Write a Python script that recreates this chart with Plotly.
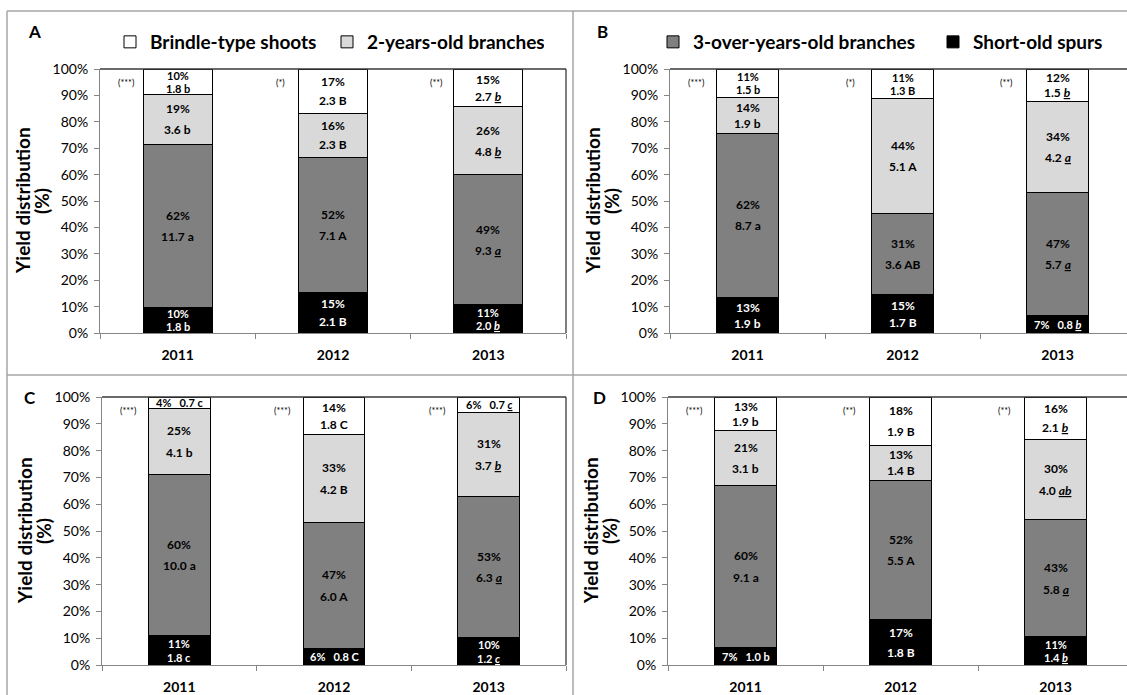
import numpy as np
import plotly.graph_objects as go

W, H = 1127, 695
FONT = "Lato"

years = ["2011", "2012", "2013"]
series = ["Short-old spurs", "3-over-years-old branches", "2-years-old branches", "Brindle-type shoots"]
fills = ["#000000", "#808080", "#D9D9D9", "#FFFFFF"]
pct_ticks = list(range(0, 101, 10))

# Yield per shoot class; rows bottom-to-top: spurs, 3-over, 2-years, brindle; columns: years
yield_a = [[1.8, 2.1, 2.0], [11.7, 7.1, 9.3], [3.6, 2.3, 4.8], [1.8, 2.3, 2.7]]
pct_a = [["10%", "15%", "11%"], ["62%", "52%", "49%"], ["19%", "16%", "26%"], ["10%", "17%", "15%"]]
letters_a = [["b", "B", "b"], ["a", "A", "a"], ["b", "B", "b"], ["b", "B", "b"]]
signif_a = ["(***)", "(*)", "(**)"]

yield_b = [[1.9, 1.7, 0.8], [8.7, 3.6, 5.7], [1.9, 5.1, 4.2], [1.5, 1.3, 1.5]]
pct_b = [["13%", "15%", "7%"], ["62%", "31%", "47%"], ["14%", "44%", "34%"], ["11%", "11%", "12%"]]
letters_b = [["b", "B", "b"], ["a", "AB", "a"], ["b", "A", "a"], ["b", "B", "b"]]
signif_b = ["(***)", "(*)", "(**)"]

yield_c = [[1.8, 0.8, 1.2], [10.0, 6.0, 6.3], [4.1, 4.2, 3.7], [0.7, 1.8, 0.7]]
pct_c = [["11%", "6%", "10%"], ["60%", "47%", "53%"], ["25%", "33%", "31%"], ["4%", "14%", "6%"]]
letters_c = [["c", "C", "c"], ["a", "A", "a"], ["b", "B", "b"], ["c", "C", "c"]]
signif_c = ["(***)", "(***)", "(***)"]

yield_d = [[1.0, 1.8, 1.4], [9.1, 5.5, 5.8], [3.1, 1.4, 4.0], [1.9, 1.9, 2.1]]
pct_d = [["7%", "17%", "11%"], ["60%", "52%", "43%"], ["21%", "13%", "30%"], ["13%", "18%", "16%"]]
letters_d = [["b", "B", "b"], ["a", "A", "a"], ["b", "B", "ab"], ["b", "B", "b"]]
signif_d = ["(***)", "(**)", "(**)"]

# panel layout in pixels: plot-area left/right/top/bottom, bar width (category units)
panels = [
    dict(tag="A", vals=yield_a, pct=pct_a, let=letters_a, sig=signif_a,
         left=100, right=566, top=69, bottom=333, bw=0.445, legend="legend"),
    dict(tag="B", vals=yield_b, pct=pct_b, let=letters_b, sig=signif_b,
         left=670, right=1135, top=69, bottom=333, bw=0.40, legend="legend2"),
    dict(tag="C", vals=yield_c, pct=pct_c, let=letters_c, sig=signif_c,
         left=102, right=566, top=397, bottom=665, bw=0.40, legend=None),
    dict(tag="D", vals=yield_d, pct=pct_d, let=letters_d, sig=signif_d,
         left=668, right=1133, top=397, bottom=665, bw=0.40, legend=None),
]


def px(x):
    return x / W


def py(y):
    return 1 - y / H


fig = go.Figure()
annotations = []
shapes = []
layout = {}
legend_series = {"legend": [2, 3], "legend2": [0, 1]}

for i, p in enumerate(panels, start=1):
    xa = "x" if i == 1 else f"x{i}"
    ya = "y" if i == 1 else f"y{i}"
    vals = np.array(p["vals"], dtype=float)

    for s in range(4):
        show = p["legend"] is not None and s in legend_series[p["legend"]]
        fig.add_trace(go.Bar(
            x=years, y=vals[s], name=series[s], xaxis=xa, yaxis=ya,
            width=p["bw"], marker=dict(color=fills[s], line=dict(color="#000000", width=1)),
            showlegend=show, legend=p["legend"] if show else None, hoverinfo="skip",
        ))

    # segment labels at the middle of each stacked block
    share = vals / vals.sum(axis=0) * 100
    tops = np.cumsum(share, axis=0)
    bots = tops - share
    for j in range(3):
        for s in range(4):
            h = share[s, j]
            mid = (tops[s, j] + bots[s, j]) / 2
            letter = p["let"][s][j]
            if j == 2:
                letter = f"<i><u>{letter}</u></i>"
            value = f"{vals[s, j]:.1f} {letter}"
            color = "#FFFFFF" if s == 0 else "#000000"
            size = 12 if h >= 12 else 11
            font = dict(family=FONT, size=size, color=color, weight="bold")
            if h < 8:
                annotations.append(dict(
                    x=j, y=mid, xref=xa, yref=ya, showarrow=False,
                    text=f"{p['pct'][s][j]}&nbsp;&nbsp;&nbsp;{value}", font=dict(font, size=11),
                    xanchor="center", yanchor="middle"))
            else:
                gap = float(np.clip(0.45 * h, 4.9, 8.0))
                annotations.append(dict(
                    x=j, y=mid + gap / 2, xref=xa, yref=ya, showarrow=False,
                    text=p["pct"][s][j], font=font, xanchor="center", yanchor="middle"))
                annotations.append(dict(
                    x=j, y=mid - gap / 2, xref=xa, yref=ya, showarrow=False,
                    text=value, font=font, xanchor="center", yanchor="middle"))
        annotations.append(dict(
            x=j - 0.335, y=95, xref=xa, yref=ya, showarrow=False, text=p["sig"][j],
            font=dict(family=FONT, size=9, color="#000000"), xanchor="center", yanchor="middle"))

    right = min(p["right"], W)
    span = 3 * (right - p["left"]) / (p["right"] - p["left"])
    layout["xaxis" if i == 1 else f"xaxis{i}"] = dict(
        domain=[px(p["left"]), px(right)], anchor=ya, type="category",
        range=[-0.5, -0.5 + span], showline=True, linecolor="#868686", linewidth=1,
        ticks="outside", tickson="boundaries", ticklen=5, tickcolor="#868686",
        ticklabelstandoff=9, showgrid=False, zeroline=False, fixedrange=True,
        tickfont=dict(family=FONT, size=14, color="#000000", weight="bold"),
    )
    layout["yaxis" if i == 1 else f"yaxis{i}"] = dict(
        domain=[py(p["bottom"]), py(p["top"])], anchor=xa, range=[0, 100],
        tickmode="array", tickvals=pct_ticks, ticktext=[f"{v}%" for v in pct_ticks],
        showline=True, linecolor="#868686", linewidth=1, ticks="outside", ticklen=5,
        tickcolor="#868686", showgrid=False, zeroline=False, fixedrange=True,
        ticklabelstandoff=3, tickfont=dict(family=FONT, size=14, color="#000000"),
    )

    # plot-area frame: top edge, and right edge where it falls inside the page
    xd, yd = f"{xa} domain", f"{ya} domain"
    shapes.append(dict(type="line", xref=xd, yref=yd, x0=0, x1=1, y0=1, y1=1,
                       line=dict(color="#3A3A3A", width=1.3)))
    if p["right"] <= W:
        shapes.append(dict(type="line", xref=xd, yref=yd, x0=1, x1=1, y0=0, y1=1,
                           line=dict(color="#3A3A3A", width=1.3)))

    # two-line vertical axis title
    ymid = py((p["top"] + p["bottom"]) / 2)
    for text, dx in [("Yield distribution", -78), ("(%)", -59)]:
        annotations.append(dict(
            x=px(p["left"] + dx), y=ymid, xref="paper", yref="paper",
            text=text, textangle=-90, showarrow=False, xanchor="center", yanchor="middle",
            font=dict(family=FONT, size=19, color="#000000", weight="bold")))

# panel tags
for tag, x, y in [("A", 34, 32), ("B", 602, 32), ("C", 30, 397), ("D", 599, 397)]:
    annotations.append(dict(x=px(x), y=py(y), xref="paper", yref="paper", text=tag,
                            showarrow=False, xanchor="center", yanchor="middle",
                            font=dict(family=FONT, size=17, weight="bold", color="#000000")))

# outer frames of the four chart areas
frame = dict(color="#A6A6A6", width=1.5)
for x0, y0, x1, y1 in [(7, 11, 1127, 11), (7, 11, 7, 695), (573, 11, 573, 695), (7, 375, 1127, 375)]:
    shapes.append(dict(type="line", xref="paper", yref="paper",
                       x0=px(x0), y0=py(y0), x1=px(x1), y1=py(y1), line=frame))

legend_common = dict(orientation="h", xanchor="left", yanchor="middle", y=py(42),
                     traceorder="reversed", entrywidthmode="pixels", bgcolor="rgba(0,0,0,0)",
                     font=dict(family=FONT, size=19, color="#000000", weight="bold"))

fig.update_layout(
    width=W, height=H, margin=dict(l=0, r=0, t=0, b=0, autoexpand=False),
    paper_bgcolor="#FFFFFF", plot_bgcolor="#FFFFFF",
    barmode="stack", barnorm="percent",
    font=dict(family=FONT, color="#000000"),
    legend=dict(legend_common, x=px(110), entrywidth=172),
    legend2=dict(legend_common, x=px(653), entrywidth=235),
    annotations=annotations, shapes=shapes, **layout,
)

fig.write_html("out.html")
